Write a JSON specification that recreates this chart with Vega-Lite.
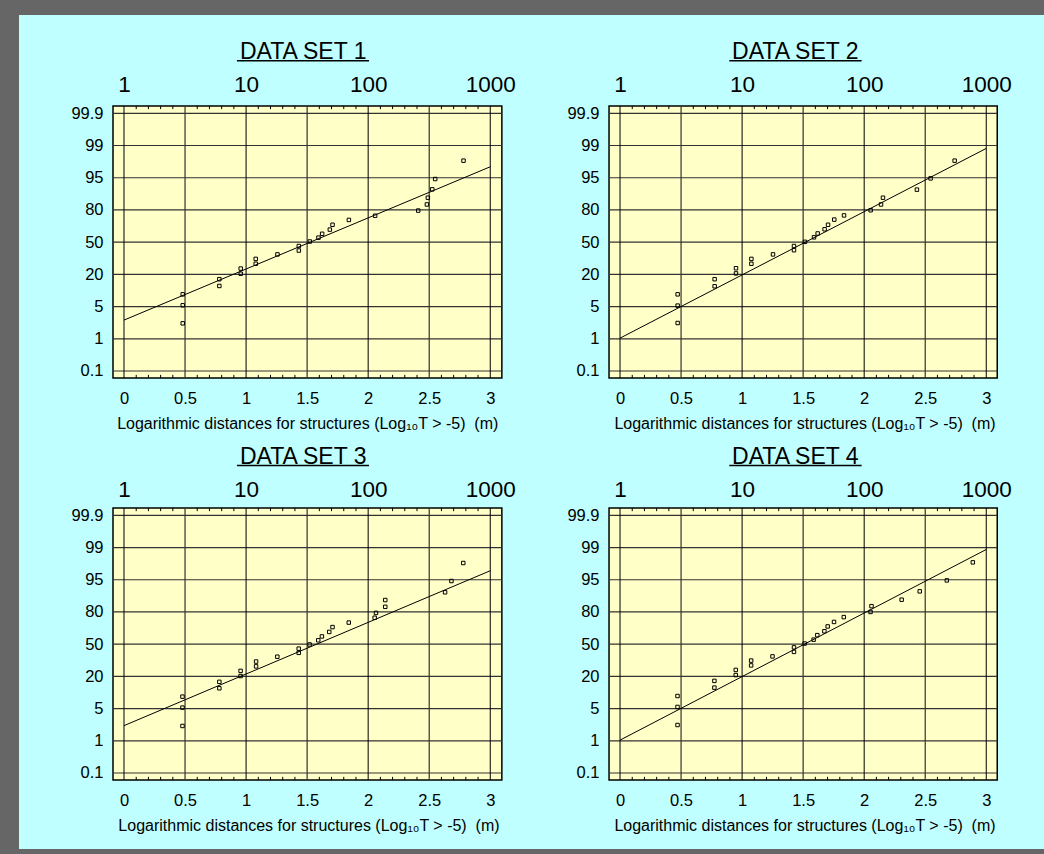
{
  "$schema": "https://vega.github.io/schema/vega-lite/v6.json",
  "background": "#666666",
  "padding": {"left": 19, "top": 15, "right": 0, "bottom": 5},
  "config": {
    "view": {"fill": "#C0FFFF", "stroke": null},
    "axis": {"labelFont": "Liberation Sans", "labelColor": "#000000", "domain": false, "ticks": false, "grid": false, "title": null, "labelFlush": false, "labelOverlap": false},
    "text": {"font": "Liberation Sans", "color": "#000000"},
    "concat": {"spacing": 0}
  },
  "datasets": {
    "hgrid": [{"p": 0}, {"p": 1}, {"p": 2}, {"p": 3}, {"p": 4}, {"p": 5}, {"p": 6}, {"p": 7}, {"p": 8}],
    "vhalf": [{"p": 0.5}, {"p": 1.5}, {"p": 2.5}],
    "vwhole": [{"p": 0}, {"p": 1}, {"p": 2}, {"p": 3}],
    "minor": [{"p": 0.1}, {"p": 0.2}, {"p": 0.3}, {"p": 0.4}, {"p": 0.6}, {"p": 0.7}, {"p": 0.8}, {"p": 0.9}, {"p": 1.1}, {"p": 1.2}, {"p": 1.3}, {"p": 1.4}, {"p": 1.6}, {"p": 1.7}, {"p": 1.8}, {"p": 1.9}, {"p": 2.1}, {"p": 2.2}, {"p": 2.3}, {"p": 2.4}, {"p": 2.6}, {"p": 2.7}, {"p": 2.8}, {"p": 2.9}],
    "fit": [
      {"set": 1, "x1": 0, "y1": 1.58, "x2": 3, "y2": 6.34},
      {"set": 2, "x1": 0, "y1": 1.02, "x2": 3, "y2": 6.91},
      {"set": 3, "x1": 0, "y1": 1.47, "x2": 3, "y2": 6.28},
      {"set": 4, "x1": 0, "y1": 1.02, "x2": 3, "y2": 6.94}
    ],
    "pts": [
      {"set": 1, "x": 0.481, "y": 1.48}, {"set": 1, "x": 0.481, "y": 2.04}, {"set": 1, "x": 0.481, "y": 2.38}, {"set": 1, "x": 0.781, "y": 2.64}, {"set": 1, "x": 0.781, "y": 2.85},
      {"set": 1, "x": 0.956, "y": 3.02}, {"set": 1, "x": 0.956, "y": 3.18}, {"set": 1, "x": 1.079, "y": 3.33}, {"set": 1, "x": 1.079, "y": 3.48}, {"set": 1, "x": 1.257, "y": 3.62},
      {"set": 1, "x": 1.432, "y": 3.74}, {"set": 1, "x": 1.432, "y": 3.88}, {"set": 1, "x": 1.522, "y": 4.02}, {"set": 1, "x": 1.593, "y": 4.14}, {"set": 1, "x": 1.623, "y": 4.26},
      {"set": 1, "x": 1.686, "y": 4.39}, {"set": 1, "x": 1.708, "y": 4.54}, {"set": 1, "x": 1.842, "y": 4.69}, {"set": 1, "x": 2.057, "y": 4.82}, {"set": 1, "x": 2.41, "y": 4.98},
      {"set": 1, "x": 2.481, "y": 5.17}, {"set": 1, "x": 2.489, "y": 5.38}, {"set": 1, "x": 2.525, "y": 5.64}, {"set": 1, "x": 2.549, "y": 5.96}, {"set": 1, "x": 2.781, "y": 6.53},
      {"set": 2, "x": 0.472, "y": 1.49}, {"set": 2, "x": 0.472, "y": 2.03}, {"set": 2, "x": 0.472, "y": 2.38}, {"set": 2, "x": 0.775, "y": 2.63}, {"set": 2, "x": 0.775, "y": 2.85},
      {"set": 2, "x": 0.95, "y": 3.03}, {"set": 2, "x": 0.95, "y": 3.19}, {"set": 2, "x": 1.076, "y": 3.33}, {"set": 2, "x": 1.076, "y": 3.48}, {"set": 2, "x": 1.253, "y": 3.62},
      {"set": 2, "x": 1.425, "y": 3.75}, {"set": 2, "x": 1.425, "y": 3.88}, {"set": 2, "x": 1.515, "y": 4.01}, {"set": 2, "x": 1.589, "y": 4.15}, {"set": 2, "x": 1.619, "y": 4.27},
      {"set": 2, "x": 1.676, "y": 4.4}, {"set": 2, "x": 1.704, "y": 4.54}, {"set": 2, "x": 1.755, "y": 4.7}, {"set": 2, "x": 1.835, "y": 4.83}, {"set": 2, "x": 2.053, "y": 4.99},
      {"set": 2, "x": 2.138, "y": 5.17}, {"set": 2, "x": 2.154, "y": 5.38}, {"set": 2, "x": 2.432, "y": 5.63}, {"set": 2, "x": 2.544, "y": 5.98}, {"set": 2, "x": 2.741, "y": 6.53},
      {"set": 3, "x": 0.479, "y": 1.46}, {"set": 3, "x": 0.479, "y": 2.03}, {"set": 3, "x": 0.479, "y": 2.37}, {"set": 3, "x": 0.781, "y": 2.63}, {"set": 3, "x": 0.781, "y": 2.83},
      {"set": 3, "x": 0.955, "y": 3.01}, {"set": 3, "x": 0.955, "y": 3.17}, {"set": 3, "x": 1.082, "y": 3.31}, {"set": 3, "x": 1.082, "y": 3.46}, {"set": 3, "x": 1.256, "y": 3.61},
      {"set": 3, "x": 1.431, "y": 3.73}, {"set": 3, "x": 1.431, "y": 3.86}, {"set": 3, "x": 1.52, "y": 3.99}, {"set": 3, "x": 1.591, "y": 4.12}, {"set": 3, "x": 1.621, "y": 4.24},
      {"set": 3, "x": 1.681, "y": 4.38}, {"set": 3, "x": 1.708, "y": 4.53}, {"set": 3, "x": 1.841, "y": 4.67}, {"set": 3, "x": 2.053, "y": 4.82}, {"set": 3, "x": 2.064, "y": 4.97},
      {"set": 3, "x": 2.14, "y": 5.16}, {"set": 3, "x": 2.14, "y": 5.37}, {"set": 3, "x": 2.63, "y": 5.61}, {"set": 3, "x": 2.682, "y": 5.96}, {"set": 3, "x": 2.779, "y": 6.52},
      {"set": 4, "x": 0.471, "y": 1.49}, {"set": 4, "x": 0.471, "y": 2.05}, {"set": 4, "x": 0.471, "y": 2.39}, {"set": 4, "x": 0.773, "y": 2.65}, {"set": 4, "x": 0.773, "y": 2.86},
      {"set": 4, "x": 0.948, "y": 3.04}, {"set": 4, "x": 0.948, "y": 3.2}, {"set": 4, "x": 1.074, "y": 3.34}, {"set": 4, "x": 1.074, "y": 3.49}, {"set": 4, "x": 1.249, "y": 3.62},
      {"set": 4, "x": 1.425, "y": 3.76}, {"set": 4, "x": 1.425, "y": 3.9}, {"set": 4, "x": 1.512, "y": 4.02}, {"set": 4, "x": 1.586, "y": 4.14}, {"set": 4, "x": 1.616, "y": 4.28},
      {"set": 4, "x": 1.674, "y": 4.4}, {"set": 4, "x": 1.701, "y": 4.55}, {"set": 4, "x": 1.753, "y": 4.69}, {"set": 4, "x": 1.833, "y": 4.84}, {"set": 4, "x": 2.052, "y": 5.0},
      {"set": 4, "x": 2.06, "y": 5.18}, {"set": 4, "x": 2.307, "y": 5.38}, {"set": 4, "x": 2.455, "y": 5.64}, {"set": 4, "x": 2.677, "y": 5.98}, {"set": 4, "x": 2.89, "y": 6.54}
    ]
  },
  "vconcat": [
    {
      "hconcat": [
        {
          "width": 503, "height": 422,
          "resolve": {"axis": {"x": "independent", "y": "independent"}},
          "layer": [
            {"data": {"values": [{}]}, "mark": {"type": "rect", "fill": "#FFFFC8", "stroke": "#000000", "strokeWidth": 1.5},
             "encoding": {
               "x": {"datum": -0.09, "type": "quantitative", "scale": {"domain": [-0.86, 3.26], "nice": false, "zero": false},
                     "axis": {"orient": "bottom", "values": [0, 0.5, 1, 1.5, 2, 2.5, 3], "format": "~g", "offset": -58.9, "labelFontSize": 16.5, "labelPadding": 12}},
               "x2": {"datum": 3.095},
               "y": {"datum": -0.22, "type": "quantitative", "scale": {"domain": [-2.049, 11.052], "nice": false, "zero": false},
                     "axis": {"orient": "left", "values": [0, 1, 2, 3, 4, 5, 6, 7, 8], "labelExpr": "['0.1','1','5','20','50','80','95','99','99.9'][datum.value]", "offset": -94, "labelFontSize": 16.5, "labelPadding": 10}},
               "y2": {"datum": 8.23}}},
            {"data": {"name": "hgrid"}, "mark": {"type": "rule", "color": "#333333", "strokeWidth": 1.2},
             "encoding": {"y": {"field": "p", "type": "quantitative", "axis": null}, "x": {"datum": -0.09, "type": "quantitative", "axis": null}, "x2": {"datum": 3.095}}},
            {"data": {"name": "vhalf"}, "mark": {"type": "rule", "color": "#333333", "strokeWidth": 1.2},
             "encoding": {"x": {"field": "p", "type": "quantitative", "axis": null}, "y": {"datum": -0.22, "type": "quantitative", "axis": null}, "y2": {"datum": 8.23}}},
            {"data": {"name": "vwhole"}, "mark": {"type": "rule", "color": "#000000", "strokeWidth": 1},
             "encoding": {"x": {"field": "p", "type": "quantitative",
                               "axis": {"orient": "top", "values": [0, 1, 2, 3], "labelExpr": "['1','10','100','1000'][datum.value]", "offset": -90.9, "labelFontSize": 22.5, "labelPadding": 9.5}},
                          "y": {"datum": -0.22, "type": "quantitative", "axis": null}, "y2": {"datum": 8.23}}},
            {"data": {"name": "minor"}, "mark": {"type": "rule", "color": "#000000", "strokeWidth": 1},
             "encoding": {"x": {"field": "p", "type": "quantitative", "axis": null}, "y": {"datum": -0.22, "type": "quantitative", "axis": null}, "y2": {"datum": -0.12}}},
            {"data": {"name": "minor"}, "mark": {"type": "rule", "color": "#000000", "strokeWidth": 1},
             "encoding": {"x": {"field": "p", "type": "quantitative", "axis": null}, "y": {"datum": 8.23, "type": "quantitative", "axis": null}, "y2": {"datum": 8.13}}},
            {"data": {"name": "fit"}, "transform": [{"filter": "datum.set === 1"}], "mark": {"type": "rule", "color": "#000000", "strokeWidth": 1},
             "encoding": {"x": {"field": "x1", "type": "quantitative", "axis": null}, "y": {"field": "y1", "type": "quantitative", "axis": null}, "x2": {"field": "x2"}, "y2": {"field": "y2"}}},
            {"data": {"name": "pts"}, "transform": [{"filter": "datum.set === 1"}], "mark": {"type": "point", "shape": "square", "filled": false, "size": 12, "stroke": "#000000", "strokeWidth": 1, "opacity": 1},
             "encoding": {"x": {"field": "x", "type": "quantitative", "axis": null}, "y": {"field": "y", "type": "quantitative", "axis": null}}},
            {"data": {"values": [{}]}, "mark": {"type": "text", "fontSize": 23, "baseline": "alphabetic", "align": "center"},
             "encoding": {"text": {"value": "DATA SET 1"}, "x": {"datum": 1.468, "type": "quantitative", "axis": null}, "y": {"datum": 9.68, "type": "quantitative", "axis": null}}},
            {"data": {"values": [{}]}, "mark": {"type": "rule", "color": "#000000", "strokeWidth": 1.5},
             "encoding": {"x": {"datum": 0.925, "type": "quantitative", "axis": null}, "x2": {"datum": 2.007}, "y": {"datum": 9.63, "type": "quantitative", "axis": null}}},
            {"data": {"values": [{}]}, "mark": {"type": "text", "fontSize": 16, "baseline": "alphabetic", "align": "center"},
             "encoding": {"text": {"value": "Logarithmic distances for structures (Log₁₀T > -5) \u00a0(m)"}, "x": {"datum": 1.505, "type": "quantitative", "axis": null}, "y": {"datum": -1.8, "type": "quantitative", "axis": null}}}
          ]
        },
        {
          "width": 522, "height": 422,
          "resolve": {"axis": {"x": "independent", "y": "independent"}},
          "layer": [
            {"data": {"values": [{}]}, "mark": {"type": "rect", "fill": "#FFFFC8", "stroke": "#000000", "strokeWidth": 1.5},
             "encoding": {
               "x": {"datum": -0.09, "type": "quantitative", "scale": {"domain": [-0.803, 3.473], "nice": false, "zero": false},
                     "axis": {"orient": "bottom", "values": [0, 0.5, 1, 1.5, 2, 2.5, 3], "format": "~g", "offset": -58.9, "labelFontSize": 16.5, "labelPadding": 12}},
               "x2": {"datum": 3.09},
               "y": {"datum": -0.22, "type": "quantitative", "scale": {"domain": [-2.049, 11.052], "nice": false, "zero": false},
                     "axis": {"orient": "left", "values": [0, 1, 2, 3, 4, 5, 6, 7, 8], "labelExpr": "['0.1','1','5','20','50','80','95','99','99.9'][datum.value]", "offset": -87, "labelFontSize": 16.5, "labelPadding": 10}},
               "y2": {"datum": 8.23}}},
            {"data": {"name": "hgrid"}, "mark": {"type": "rule", "color": "#333333", "strokeWidth": 1.2},
             "encoding": {"y": {"field": "p", "type": "quantitative", "axis": null}, "x": {"datum": -0.09, "type": "quantitative", "axis": null}, "x2": {"datum": 3.09}}},
            {"data": {"name": "vhalf"}, "mark": {"type": "rule", "color": "#333333", "strokeWidth": 1.2},
             "encoding": {"x": {"field": "p", "type": "quantitative", "axis": null}, "y": {"datum": -0.22, "type": "quantitative", "axis": null}, "y2": {"datum": 8.23}}},
            {"data": {"name": "vwhole"}, "mark": {"type": "rule", "color": "#000000", "strokeWidth": 1},
             "encoding": {"x": {"field": "p", "type": "quantitative",
                               "axis": {"orient": "top", "values": [0, 1, 2, 3], "labelExpr": "['1','10','100','1000'][datum.value]", "offset": -90.9, "labelFontSize": 22.5, "labelPadding": 9.5}},
                          "y": {"datum": -0.22, "type": "quantitative", "axis": null}, "y2": {"datum": 8.23}}},
            {"data": {"name": "minor"}, "mark": {"type": "rule", "color": "#000000", "strokeWidth": 1},
             "encoding": {"x": {"field": "p", "type": "quantitative", "axis": null}, "y": {"datum": -0.22, "type": "quantitative", "axis": null}, "y2": {"datum": -0.12}}},
            {"data": {"name": "minor"}, "mark": {"type": "rule", "color": "#000000", "strokeWidth": 1},
             "encoding": {"x": {"field": "p", "type": "quantitative", "axis": null}, "y": {"datum": 8.23, "type": "quantitative", "axis": null}, "y2": {"datum": 8.13}}},
            {"data": {"name": "fit"}, "transform": [{"filter": "datum.set === 2"}], "mark": {"type": "rule", "color": "#000000", "strokeWidth": 1},
             "encoding": {"x": {"field": "x1", "type": "quantitative", "axis": null}, "y": {"field": "y1", "type": "quantitative", "axis": null}, "x2": {"field": "x2"}, "y2": {"field": "y2"}}},
            {"data": {"name": "pts"}, "transform": [{"filter": "datum.set === 2"}], "mark": {"type": "point", "shape": "square", "filled": false, "size": 12, "stroke": "#000000", "strokeWidth": 1, "opacity": 1},
             "encoding": {"x": {"field": "x", "type": "quantitative", "axis": null}, "y": {"field": "y", "type": "quantitative", "axis": null}}},
            {"data": {"values": [{}]}, "mark": {"type": "text", "fontSize": 23, "baseline": "alphabetic", "align": "center"},
             "encoding": {"text": {"value": "DATA SET 2"}, "x": {"datum": 1.436, "type": "quantitative", "axis": null}, "y": {"datum": 9.68, "type": "quantitative", "axis": null}}},
            {"data": {"values": [{}]}, "mark": {"type": "rule", "color": "#000000", "strokeWidth": 1.5},
             "encoding": {"x": {"datum": 0.895, "type": "quantitative", "axis": null}, "x2": {"datum": 1.979}, "y": {"datum": 9.63, "type": "quantitative", "axis": null}}},
            {"data": {"values": [{}]}, "mark": {"type": "text", "fontSize": 16, "baseline": "alphabetic", "align": "center"},
             "encoding": {"text": {"value": "Logarithmic distances for structures (Log₁₀T > -5) \u00a0(m)"}, "x": {"datum": 1.515, "type": "quantitative", "axis": null}, "y": {"datum": -1.8, "type": "quantitative", "axis": null}}}
          ]
        }
      ]
    },
    {
      "hconcat": [
        {
          "width": 503, "height": 412,
          "resolve": {"axis": {"x": "independent", "y": "independent"}},
          "layer": [
            {"data": {"values": [{}]}, "mark": {"type": "rect", "fill": "#FFFFC8", "stroke": "#000000", "strokeWidth": 1.5},
             "encoding": {
               "x": {"datum": -0.09, "type": "quantitative", "scale": {"domain": [-0.86, 3.26], "nice": false, "zero": false},
                     "axis": {"orient": "bottom", "values": [0, 0.5, 1, 1.5, 2, 2.5, 3], "format": "~g", "offset": -68.9, "labelFontSize": 16.5, "labelPadding": 12}},
               "x2": {"datum": 3.095},
               "y": {"datum": -0.22, "type": "quantitative", "scale": {"domain": [-2.36, 10.432], "nice": false, "zero": false},
                     "axis": {"orient": "left", "values": [0, 1, 2, 3, 4, 5, 6, 7, 8], "labelExpr": "['0.1','1','5','20','50','80','95','99','99.9'][datum.value]", "offset": -94, "labelFontSize": 16.5, "labelPadding": 10}},
               "y2": {"datum": 8.23}}},
            {"data": {"name": "hgrid"}, "mark": {"type": "rule", "color": "#333333", "strokeWidth": 1.2},
             "encoding": {"y": {"field": "p", "type": "quantitative", "axis": null}, "x": {"datum": -0.09, "type": "quantitative", "axis": null}, "x2": {"datum": 3.095}}},
            {"data": {"name": "vhalf"}, "mark": {"type": "rule", "color": "#333333", "strokeWidth": 1.2},
             "encoding": {"x": {"field": "p", "type": "quantitative", "axis": null}, "y": {"datum": -0.22, "type": "quantitative", "axis": null}, "y2": {"datum": 8.23}}},
            {"data": {"name": "vwhole"}, "mark": {"type": "rule", "color": "#000000", "strokeWidth": 1},
             "encoding": {"x": {"field": "p", "type": "quantitative",
                               "axis": {"orient": "top", "values": [0, 1, 2, 3], "labelExpr": "['1','10','100','1000'][datum.value]", "offset": -70.9, "labelFontSize": 22.5, "labelPadding": 6.5}},
                          "y": {"datum": -0.22, "type": "quantitative", "axis": null}, "y2": {"datum": 8.23}}},
            {"data": {"name": "minor"}, "mark": {"type": "rule", "color": "#000000", "strokeWidth": 1},
             "encoding": {"x": {"field": "p", "type": "quantitative", "axis": null}, "y": {"datum": -0.22, "type": "quantitative", "axis": null}, "y2": {"datum": -0.12}}},
            {"data": {"name": "minor"}, "mark": {"type": "rule", "color": "#000000", "strokeWidth": 1},
             "encoding": {"x": {"field": "p", "type": "quantitative", "axis": null}, "y": {"datum": 8.23, "type": "quantitative", "axis": null}, "y2": {"datum": 8.13}}},
            {"data": {"name": "fit"}, "transform": [{"filter": "datum.set === 3"}], "mark": {"type": "rule", "color": "#000000", "strokeWidth": 1},
             "encoding": {"x": {"field": "x1", "type": "quantitative", "axis": null}, "y": {"field": "y1", "type": "quantitative", "axis": null}, "x2": {"field": "x2"}, "y2": {"field": "y2"}}},
            {"data": {"name": "pts"}, "transform": [{"filter": "datum.set === 3"}], "mark": {"type": "point", "shape": "square", "filled": false, "size": 12, "stroke": "#000000", "strokeWidth": 1, "opacity": 1},
             "encoding": {"x": {"field": "x", "type": "quantitative", "axis": null}, "y": {"field": "y", "type": "quantitative", "axis": null}}},
            {"data": {"values": [{}]}, "mark": {"type": "text", "fontSize": 23, "baseline": "alphabetic", "align": "center"},
             "encoding": {"text": {"value": "DATA SET 3"}, "x": {"datum": 1.468, "type": "quantitative", "axis": null}, "y": {"datum": 9.6, "type": "quantitative", "axis": null}}},
            {"data": {"values": [{}]}, "mark": {"type": "rule", "color": "#000000", "strokeWidth": 1.5},
             "encoding": {"x": {"datum": 0.925, "type": "quantitative", "axis": null}, "x2": {"datum": 2.007}, "y": {"datum": 9.55, "type": "quantitative", "axis": null}}},
            {"data": {"values": [{}]}, "mark": {"type": "text", "fontSize": 16, "baseline": "alphabetic", "align": "center"},
             "encoding": {"text": {"value": "Logarithmic distances for structures (Log₁₀T > -5) \u00a0(m)"}, "x": {"datum": 1.515, "type": "quantitative", "axis": null}, "y": {"datum": -1.8, "type": "quantitative", "axis": null}}}
          ]
        },
        {
          "width": 522, "height": 412,
          "resolve": {"axis": {"x": "independent", "y": "independent"}},
          "layer": [
            {"data": {"values": [{}]}, "mark": {"type": "rect", "fill": "#FFFFC8", "stroke": "#000000", "strokeWidth": 1.5},
             "encoding": {
               "x": {"datum": -0.09, "type": "quantitative", "scale": {"domain": [-0.803, 3.473], "nice": false, "zero": false},
                     "axis": {"orient": "bottom", "values": [0, 0.5, 1, 1.5, 2, 2.5, 3], "format": "~g", "offset": -68.9, "labelFontSize": 16.5, "labelPadding": 12}},
               "x2": {"datum": 3.09},
               "y": {"datum": -0.22, "type": "quantitative", "scale": {"domain": [-2.36, 10.432], "nice": false, "zero": false},
                     "axis": {"orient": "left", "values": [0, 1, 2, 3, 4, 5, 6, 7, 8], "labelExpr": "['0.1','1','5','20','50','80','95','99','99.9'][datum.value]", "offset": -87, "labelFontSize": 16.5, "labelPadding": 10}},
               "y2": {"datum": 8.23}}},
            {"data": {"name": "hgrid"}, "mark": {"type": "rule", "color": "#333333", "strokeWidth": 1.2},
             "encoding": {"y": {"field": "p", "type": "quantitative", "axis": null}, "x": {"datum": -0.09, "type": "quantitative", "axis": null}, "x2": {"datum": 3.09}}},
            {"data": {"name": "vhalf"}, "mark": {"type": "rule", "color": "#333333", "strokeWidth": 1.2},
             "encoding": {"x": {"field": "p", "type": "quantitative", "axis": null}, "y": {"datum": -0.22, "type": "quantitative", "axis": null}, "y2": {"datum": 8.23}}},
            {"data": {"name": "vwhole"}, "mark": {"type": "rule", "color": "#000000", "strokeWidth": 1},
             "encoding": {"x": {"field": "p", "type": "quantitative",
                               "axis": {"orient": "top", "values": [0, 1, 2, 3], "labelExpr": "['1','10','100','1000'][datum.value]", "offset": -70.9, "labelFontSize": 22.5, "labelPadding": 6.5}},
                          "y": {"datum": -0.22, "type": "quantitative", "axis": null}, "y2": {"datum": 8.23}}},
            {"data": {"name": "minor"}, "mark": {"type": "rule", "color": "#000000", "strokeWidth": 1},
             "encoding": {"x": {"field": "p", "type": "quantitative", "axis": null}, "y": {"datum": -0.22, "type": "quantitative", "axis": null}, "y2": {"datum": -0.12}}},
            {"data": {"name": "minor"}, "mark": {"type": "rule", "color": "#000000", "strokeWidth": 1},
             "encoding": {"x": {"field": "p", "type": "quantitative", "axis": null}, "y": {"datum": 8.23, "type": "quantitative", "axis": null}, "y2": {"datum": 8.13}}},
            {"data": {"name": "fit"}, "transform": [{"filter": "datum.set === 4"}], "mark": {"type": "rule", "color": "#000000", "strokeWidth": 1},
             "encoding": {"x": {"field": "x1", "type": "quantitative", "axis": null}, "y": {"field": "y1", "type": "quantitative", "axis": null}, "x2": {"field": "x2"}, "y2": {"field": "y2"}}},
            {"data": {"name": "pts"}, "transform": [{"filter": "datum.set === 4"}], "mark": {"type": "point", "shape": "square", "filled": false, "size": 12, "stroke": "#000000", "strokeWidth": 1, "opacity": 1},
             "encoding": {"x": {"field": "x", "type": "quantitative", "axis": null}, "y": {"field": "y", "type": "quantitative", "axis": null}}},
            {"data": {"values": [{}]}, "mark": {"type": "text", "fontSize": 23, "baseline": "alphabetic", "align": "center"},
             "encoding": {"text": {"value": "DATA SET 4"}, "x": {"datum": 1.436, "type": "quantitative", "axis": null}, "y": {"datum": 9.6, "type": "quantitative", "axis": null}}},
            {"data": {"values": [{}]}, "mark": {"type": "rule", "color": "#000000", "strokeWidth": 1.5},
             "encoding": {"x": {"datum": 0.895, "type": "quantitative", "axis": null}, "x2": {"datum": 1.979}, "y": {"datum": 9.55, "type": "quantitative", "axis": null}}},
            {"data": {"values": [{}]}, "mark": {"type": "text", "fontSize": 16, "baseline": "alphabetic", "align": "center"},
             "encoding": {"text": {"value": "Logarithmic distances for structures (Log₁₀T > -5) \u00a0(m)"}, "x": {"datum": 1.515, "type": "quantitative", "axis": null}, "y": {"datum": -1.8, "type": "quantitative", "axis": null}}}
          ]
        }
      ]
    }
  ]
}
